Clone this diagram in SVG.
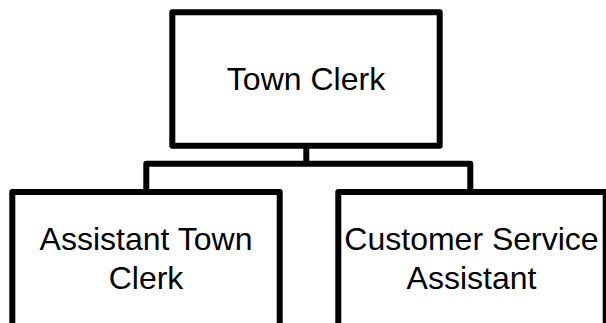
<svg xmlns="http://www.w3.org/2000/svg" width="606" height="323" viewBox="0 0 606 323">
  <style>
    .box { fill: #ffffff; stroke: #000000; stroke-width: 6; stroke-linejoin: round; }
    .wire { fill: none; stroke: #000000; stroke-width: 6; stroke-linejoin: round; }
    .label { font-family: "Liberation Sans", Arial, sans-serif; font-size: 32px; fill: #000000; text-anchor: middle; }
  </style>
  <rect width="606" height="323" fill="#ffffff"/>

  <!-- org chart connectors -->
  <g id="connectors">
    <path class="wire" d="M306.3,145.7 V163.7"/>
    <path class="wire" d="M146.3,192 V163.7 H470.3 V192"/>
  </g>

  <g id="town-clerk">
    <rect class="box" x="172.3" y="12.3" width="267.4" height="133.4"/>
    <text class="label" x="306" y="90">Town Clerk</text>
  </g>

  <g id="assistant-town-clerk">
    <rect class="box" x="12.3" y="192" width="267.4" height="150"/>
    <text class="label" x="146" y="250">Assistant Town</text>
    <text class="label" x="146" y="289.3">Clerk</text>
  </g>

  <g id="customer-service-assistant">
    <rect class="box" x="338.3" y="192" width="267.4" height="150"/>
    <text class="label" x="471.5" y="250">Customer Service</text>
    <text class="label" x="471.5" y="289.3">Assistant</text>
  </g>
</svg>
